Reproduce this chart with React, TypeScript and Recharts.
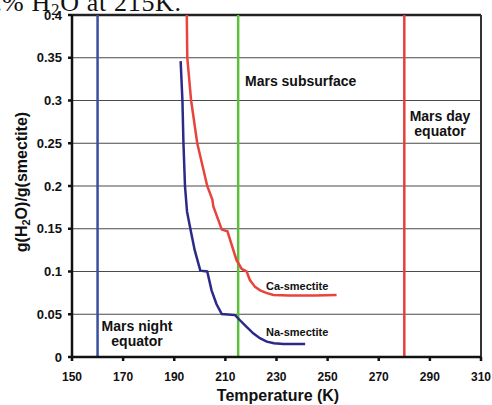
import React from 'react';
import { ComposedChart, Line, XAxis, YAxis, CartesianGrid, ReferenceLine } from 'recharts';

// Ca-smectite hydration curve (temperature K, g H2O / g smectite)
const caTemps = [194.9, 195.1, 196.6, 199.0, 202.9, 204.9, 205.3, 208.6, 210.8, 214.4, 216.4, 218.3, 219.6, 221.6, 223.6, 226.0, 228.8, 235.0, 245.0, 253.5];
const caValues = [0.4, 0.35, 0.3, 0.25, 0.2, 0.184, 0.176, 0.149, 0.147, 0.113, 0.103, 0.1, 0.09, 0.082, 0.078, 0.075, 0.0725, 0.072, 0.072, 0.0725];

// Na-smectite hydration curve
const naTemps = [192.5, 193.2, 193.6, 194.2, 195.0, 196.4, 198.0, 200.2, 202.9, 204.6, 206.5, 208.6, 213.8, 215.7, 218.0, 220.9, 223.5, 226.2, 229.0, 232.7, 241.2];
const naValues = [0.346, 0.3, 0.25, 0.2, 0.17, 0.1485, 0.125, 0.101, 0.1, 0.078, 0.062, 0.0503, 0.049, 0.043, 0.036, 0.0277, 0.022, 0.018, 0.016, 0.0152, 0.0152];

const xTicks = [150, 170, 190, 210, 230, 250, 270, 290, 310];
const yTicks = [0, 0.05, 0.1, 0.15, 0.2, 0.25, 0.3, 0.35, 0.4];

// reference temperatures
const nightEquator = 160;
const subsurface = 215;
const dayEquator = 280;

const caData = caTemps.map((t, i) => ({ t, v: caValues[i] }));
const naData = naTemps.map((t, i) => ({ t, v: naValues[i] }));

const font = '"Liberation Sans", Arial, sans-serif';
const serif = '"Liberation Serif", "Times New Roman", serif';

const App: React.FC = () => {
  return (
    <div style={{ position: 'absolute', left: 0, top: 0, width: 492, height: 405, background: '#fff' }}>
      <ComposedChart width={492} height={405} margin={{ top: 15, right: 11, left: 0, bottom: 18 }}>
        <CartesianGrid vertical={false} stroke="#4a4a4a" strokeWidth={1.2} />
        <XAxis
          dataKey="t"
          type="number"
          domain={[150, 310]}
          ticks={xTicks}
          allowDataOverflow
          height={30}
          tickSize={4}
          tickMargin={11}
          stroke="#111"
          strokeWidth={2.5}
          tick={{ fill: '#111', fontSize: 12, fontWeight: 'bold', fontFamily: font }}
        />
        <YAxis
          type="number"
          domain={[0, 0.4]}
          ticks={yTicks}
          allowDataOverflow
          width={72}
          tickSize={4}
          tickMargin={6}
          stroke="#111"
          strokeWidth={2.5}
          tick={{ fill: '#111', fontSize: 13, fontWeight: 'bold', fontFamily: font }}
        />
        <ReferenceLine y={0.4} stroke="#222" strokeWidth={2.5} />
        <ReferenceLine x={310} stroke="#333" strokeWidth={2} />
        <ReferenceLine x={nightEquator} stroke="#3b4fa0" strokeWidth={2.5} />
        <ReferenceLine x={subsurface} stroke="#5cbf3c" strokeWidth={2.5} />
        <ReferenceLine x={dayEquator} stroke="#e3403d" strokeWidth={2.5} />
        <Line data={caData} dataKey="v" type="linear" stroke="#e8433c" strokeWidth={2.5} dot={false} isAnimationActive={false} />
        <Line data={naData} dataKey="v" type="linear" stroke="#2c2a88" strokeWidth={2.5} dot={false} isAnimationActive={false} />
      </ComposedChart>
      <svg width={492} height={405} style={{ position: 'absolute', left: 0, top: 0, pointerEvents: 'none' }}>
        <g fontFamily={serif} fontSize={26} fill="#111">
          <text x={2} y={11} textAnchor="end">wt.</text>
          <text x={2} y={11} textLength={179} lengthAdjust="spacing">
            % H<tspan dy={4} fontSize={17}>2</tspan><tspan dy={-4}>O at 215K.</tspan>
          </text>
        </g>
        <g fontFamily={font} fontWeight="bold" fill="#111">
          <text x={278} y={401} textAnchor="middle" fontSize={16}>Temperature (K)</text>
          <text transform="translate(27,182) rotate(-90)" textAnchor="middle" fontSize={16}>
            g(H<tspan dy={3} fontSize={11}>2</tspan><tspan dy={-3}>O)/g(smectite)</tspan>
          </text>
          <text x={245} y={86} fontSize={14}>Mars subsurface</text>
          <text x={440} y={121} textAnchor="middle" fontSize={14}>Mars day</text>
          <text x={440} y={136} textAnchor="middle" fontSize={14}>equator</text>
          <text x={137} y={331} textAnchor="middle" fontSize={14}>Mars night</text>
          <text x={137} y={346} textAnchor="middle" fontSize={14}>equator</text>
          <text x={266} y={290} fontSize={11}>Ca-smectite</text>
          <text x={266} y={336} fontSize={11}>Na-smectite</text>
        </g>
      </svg>
    </div>
  );
};

export default App;
